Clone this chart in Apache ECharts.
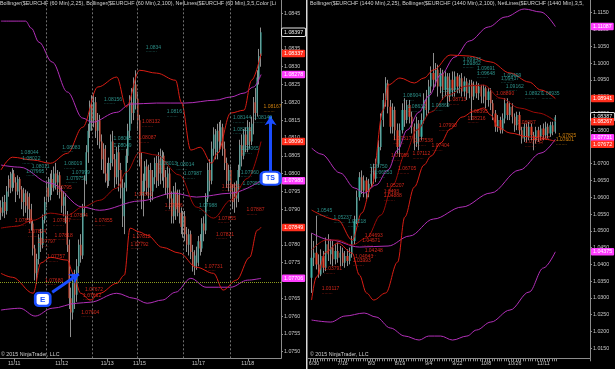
<!DOCTYPE html>
<html><head><meta charset="utf-8">
<script src="https://cdn.jsdelivr.net/npm/echarts@6/dist/echarts.min.js"></script>
<style>html,body{margin:0;padding:0;background:#000;}#c{width:615px;height:369px;}</style>
</head><body><div id="c"></div>
<script>
const FONT = '"Liberation Sans", Arial, sans-serif';

// ---------------- LEFT PANEL (60 min) ----------------
const leftSlotCount = 148;
const leftTickIndex = [7, 32, 56, 73, 104, 130];
const leftTickLabels = ['11/11', '11/12', '11/13', '11/15', '11/17', '11/18'];
const leftSessionBreaks = [24, 48, 72, 96, 121];
const leftYTicks = [1.0750,1.0755,1.0760,1.0765,1.0770,1.0775,1.0780,1.0785,1.0790,1.0795,1.0800,1.0805,1.0810,1.0815,1.0820,1.0825,1.0830,1.0835,1.0840,1.0845];

// [open, close, low, high] for slots 0..137
const leftCandles = [
[1.07905,1.07890,1.07870,1.07925],[1.07890,1.07920,1.07880,1.07935],[1.07920,1.07895,1.07875,1.07940],[1.07895,1.07950,1.07885,1.07965],
[1.07950,1.07985,1.07935,1.07995],[1.07985,1.07960,1.07945,1.08005],[1.07960,1.08000,1.07950,1.08015],[1.08000,1.07975,1.07960,1.08010],
[1.07975,1.07950,1.07920,1.07990],[1.07950,1.07985,1.07940,1.07995],[1.07985,1.07955,1.07930,1.07990],[1.07955,1.07920,1.07900,1.07965],
[1.07920,1.07945,1.07880,1.07960],[1.07945,1.07910,1.07890,1.07955],[1.07910,1.07935,1.07870,1.07950],[1.07935,1.07900,1.07860,1.07945],
[1.07900,1.07860,1.07840,1.07915],[1.07860,1.07790,1.07770,1.07870],[1.07790,1.07720,1.07700,1.07800],[1.07720,1.07760,1.07690,1.07775],
[1.07760,1.07820,1.07745,1.07830],[1.07820,1.07800,1.07780,1.07845],[1.07800,1.07870,1.07790,1.07885],[1.07870,1.07920,1.07860,1.07935],
[1.07920,1.07960,1.07905,1.07975],[1.07960,1.07935,1.07920,1.07990],[1.07935,1.07985,1.07925,1.08000],[1.07985,1.07960,1.07940,1.08010],
[1.07960,1.08000,1.07950,1.08020],[1.08000,1.07975,1.07955,1.08030],[1.07975,1.07995,1.07940,1.08010],[1.07995,1.07950,1.07930,1.08005],
[1.07950,1.07910,1.07890,1.07965],[1.07910,1.07935,1.07880,1.07950],[1.07935,1.07880,1.07860,1.07945],[1.07880,1.07800,1.07780,1.07895],
[1.07800,1.07650,1.07620,1.07815],[1.07650,1.07610,1.07541,1.07680],[1.07610,1.07700,1.07590,1.07720],[1.07700,1.07660,1.07620,1.07730],
[1.07660,1.07740,1.07640,1.07760],[1.07740,1.07800,1.07720,1.07815],[1.07800,1.07770,1.07750,1.07830],[1.07770,1.07900,1.07760,1.07915],
[1.07900,1.07980,1.07880,1.07995],[1.07980,1.08060,1.07970,1.08080],[1.08060,1.08120,1.08030,1.08140],[1.08120,1.08190,1.08100,1.08205],
[1.08190,1.08150,1.08120,1.08220],[1.08150,1.08200,1.08130,1.08225],[1.08200,1.08120,1.08100,1.08215],[1.08120,1.08150,1.08080,1.08170],
[1.08150,1.08090,1.08070,1.08165],[1.08090,1.08040,1.08010,1.08110],[1.08040,1.08070,1.08000,1.08085],[1.08070,1.08000,1.07975,1.08080],
[1.08000,1.07980,1.07960,1.08030],[1.07980,1.08030,1.07965,1.08045],[1.08030,1.08090,1.08010,1.08110],[1.08090,1.08040,1.08020,1.08120],
[1.08040,1.07990,1.07960,1.08055],[1.07990,1.08060,1.07970,1.08075],[1.08060,1.08010,1.07950,1.08080],[1.08010,1.07960,1.07930,1.08030],
[1.07960,1.07880,1.07850,1.07985],[1.07880,1.07960,1.07830,1.07975],[1.07960,1.08050,1.07950,1.08070],[1.08050,1.08120,1.08030,1.08140],
[1.08120,1.08200,1.08100,1.08220],[1.08200,1.08170,1.08140,1.08240],[1.08170,1.08250,1.08150,1.08270],[1.08250,1.08210,1.08180,1.08290],
[1.08210,1.08150,1.08120,1.08230],[1.08150,1.08040,1.08020,1.08165],[1.08040,1.07940,1.07900,1.08060],[1.07940,1.07980,1.07880,1.08000],
[1.07980,1.08020,1.07950,1.08035],[1.08020,1.07960,1.07940,1.08040],[1.07960,1.08010,1.07930,1.08025],[1.08010,1.07950,1.07920,1.08030],
[1.07950,1.07990,1.07925,1.08010],[1.07990,1.08030,1.07970,1.08045],[1.08030,1.07980,1.07960,1.08050],[1.07980,1.08040,1.07965,1.08060],
[1.08040,1.08000,1.07970,1.08070],[1.08000,1.08050,1.07980,1.08065],[1.08050,1.07990,1.07960,1.08060],[1.07990,1.07960,1.07940,1.08010],
[1.07960,1.08000,1.07930,1.08020],[1.08000,1.07930,1.07900,1.08015],[1.07930,1.07880,1.07860,1.07950],[1.07880,1.07950,1.07860,1.07965],
[1.07950,1.07900,1.07870,1.07975],[1.07900,1.07940,1.07880,1.07955],[1.07940,1.07890,1.07860,1.07955],[1.07890,1.07850,1.07830,1.07905],
[1.07850,1.07880,1.07820,1.07895],[1.07880,1.07830,1.07810,1.07895],[1.07830,1.07800,1.07780,1.07850],[1.07800,1.07830,1.07770,1.07845],
[1.07830,1.07780,1.07760,1.07840],[1.07780,1.07740,1.07725,1.07800],[1.07740,1.07770,1.07715,1.07785],[1.07770,1.07750,1.07730,1.07795],
[1.07750,1.07810,1.07740,1.07825],[1.07810,1.07790,1.07770,1.07830],[1.07790,1.07860,1.07780,1.07875],[1.07860,1.07840,1.07810,1.07880],
[1.07840,1.07930,1.07830,1.07945],[1.07930,1.08010,1.07920,1.08030],[1.08010,1.07980,1.07950,1.08040],[1.07980,1.08070,1.07970,1.08090],
[1.08070,1.08110,1.08050,1.08130],[1.08110,1.08060,1.08040,1.08125],[1.08060,1.08120,1.08040,1.08140],[1.08120,1.08090,1.08060,1.08145],
[1.08090,1.08130,1.08070,1.08150],[1.08130,1.08070,1.08050,1.08140],[1.08070,1.08030,1.08010,1.08090],[1.08030,1.07980,1.07960,1.08045],
[1.07980,1.08010,1.07950,1.08025],[1.08010,1.07950,1.07930,1.08020],[1.07950,1.07920,1.07900,1.07970],[1.07920,1.07960,1.07890,1.07975],
[1.07960,1.07930,1.07905,1.07980],[1.07930,1.08010,1.07920,1.08025],[1.08010,1.08080,1.07990,1.08095],[1.08080,1.08050,1.08020,1.08110],
[1.08050,1.08110,1.08040,1.08125],[1.08110,1.08080,1.08060,1.08130],[1.08080,1.08130,1.08060,1.08150],[1.08130,1.08090,1.08070,1.08145],
[1.08090,1.08140,1.08080,1.08160],[1.08140,1.08200,1.08110,1.08215],[1.08200,1.08170,1.08150,1.08240],[1.08170,1.08270,1.08160,1.08290],
[1.08270,1.08330,1.08250,1.08350],[1.08330,1.08397,1.08300,1.08410]
];

// band points [slot, value]
const leftRedUpper = [[0,1.08010],[6,1.08046],[17,1.08038],[26,1.08029],[35,1.08057],[43,1.08130],[51,1.08243],[61,1.08271],[66,1.08187],[73,1.08290],[82,1.08282],[92,1.08262],[95,1.08200],[100,1.08066],[105,1.08074],[111,1.08029],[114,1.08057],[121,1.08170],[128,1.08178],[132,1.08262],[137,1.08337]];
const leftRedMid = [[0,1.07847],[8,1.07852],[17,1.07869],[26,1.07889],[35,1.07883],[43,1.07906],[52,1.07925],[61,1.07959],[66,1.08004],[73,1.08060],[82,1.08052],[94,1.07996],[103,1.07906],[112,1.07875],[121,1.07925],[130,1.07987],[137,1.08090]];
const leftRedLower = [[0,1.07720],[6,1.07709],[17,1.07664],[21,1.07749],[26,1.07765],[35,1.07757],[38,1.07720],[42,1.07664],[47,1.07645],[52,1.07664],[61,1.07692],[65,1.07715],[68,1.07847],[73,1.07836],[77,1.07827],[85,1.07793],[94,1.07777],[103,1.07737],[112,1.07720],[117,1.07673],[124,1.07701],[131,1.07765],[135,1.07841],[137,1.07849]];
const leftMagUpper = [[0,1.08428],[13,1.08428],[16,1.08408],[20,1.08369],[27,1.08313],[35,1.08229],[43,1.08156],[48,1.08144],[61,1.08172],[68,1.08195],[82,1.08198],[97,1.08198],[113,1.08206],[121,1.08215],[128,1.08226],[133,1.08243],[137,1.08278]];
const leftMagMid = [[0,1.08024],[10,1.08018],[26,1.07973],[43,1.07906],[52,1.07897],[73,1.07923],[91,1.07945],[103,1.07934],[121,1.07945],[137,1.07980]];
const leftMagLower = [[0,1.07617],[10,1.07622],[18,1.07600],[27,1.07622],[40,1.07636],[47,1.07639],[61,1.07664],[70,1.07650],[77,1.07636],[85,1.07645],[92,1.07667],[100,1.07706],[108,1.07681],[121,1.07681],[130,1.07701],[137,1.07706]];

const leftBoxValues = [1.08397, 1.08337, 1.08278, 1.08090, 1.07980, 1.07849, 1.07706];
const leftBoxKinds  = ['last', 'red', 'mag', 'red', 'mag', 'red', 'mag'];
const leftLevelLine = 1.07695;

const leftTealLabels = [
[76,1.08352,'1.0834'],[54,1.08206,'1.08156'],[32,1.08071,'1.08083'],[10,1.08055,'1.08044'],[11,1.08038,'1.08022'],
[16,1.08018,'1.08011'],[13,1.08004,'1.07995'],[33,1.08024,'1.08019'],[37,1.08001,'1.07999'],[34,1.07984,'1.07975'],
[59,1.08094,'1.08062'],[59,1.08077,'1.08049'],[87,1.08170,'1.0816'],[122,1.08153,'1.08144'],[133,1.08153,'1.08149'],
[122,1.08122,'1.08131'],[83,1.08024,'1.08013'],[92,1.08021,'1.08014'],[96,1.07996,'1.07987'],[104,1.07906,'1.07988'],
[126,1.08066,'1.08065'],[126,1.08001,'1.07960'],[127,1.07968,'1.07952']
];
const leftRedLabels = [
[7,1.07864,'1.07856'],[14,1.07833,'1.07824'],[19,1.07805,'1.07797'],[24,1.07763,'1.07757'],[23,1.07698,'1.07680'],
[27,1.07864,'1.07827'],[28,1.07824,'1.07818'],[29,1.07959,'1.0795'],[36,1.07880,'1.07874'],[49,1.07864,'1.07855'],
[44,1.07672,'1.07672'],[43,1.07656,'1.07662'],[42,1.07608,'1.07604'],[74,1.08142,'1.08132'],[72,1.08097,'1.08087'],
[70,1.07937,'1.07891'],[86,1.07906,'1.07866'],[69,1.07819,'1.07812'],[68,1.07799,'1.07792'],[107,1.07737,'1.07731'],
[114,1.07872,'1.07855'],[113,1.07827,'1.07821'],[116,1.07962,'1.07863'],[129,1.07895,'1.07887']
];
const leftOrangeLabels = [[138,1.08184,'1.08167']];

// annotations (data coordinates)
const eBox = [22, 1.07647];
const eArrow = [[27, 1.07667], [41, 1.07718]];
const tsBox = [142, 1.07987];
const tsArrow = [[142, 1.08004], [142, 1.08161]];

// ---------------- RIGHT PANEL (daily) ----------------
const rightSlotCount = 118;
const rightFirstSlot = 1;
const rightTickIndex = [2, 14, 26, 38, 50, 62, 74, 86, 98];
const rightTickLabels = ['6/30', '7/16', '8/3', '8/19', '9/4', '9/22', '10/8', '10/26', '11/11'];
const rightYTicks = [1.0150,1.0200,1.0250,1.0300,1.0350,1.0400,1.0450,1.0500,1.0550,1.0600,1.0650,1.0700,1.0750,1.0800,1.0850,1.0900,1.0950,1.1000,1.1050,1.1100,1.1150];

// [open, close, low, high] for slots 1..103
const rightCandles = [
[1.03600,1.04200,1.03150,1.04930],[1.04200,1.04350,1.03950,1.04700],[1.04350,1.04000,1.03850,1.05450],[1.04000,1.03700,1.03600,1.04300],
[1.03700,1.04250,1.03650,1.04450],[1.04250,1.03900,1.03750,1.04400],[1.03900,1.04600,1.03800,1.04800],[1.04600,1.04300,1.04100,1.04900],
[1.04300,1.04500,1.04000,1.04750],[1.04500,1.04150,1.03950,1.04700],[1.04150,1.04400,1.04000,1.04600],[1.04400,1.04200,1.04050,1.04650],
[1.04200,1.04350,1.03950,1.04550],[1.04350,1.04050,1.03950,1.04500],[1.04050,1.04250,1.03900,1.04400],[1.04250,1.04100,1.03950,1.04450],
[1.04100,1.04300,1.04000,1.04500],[1.04300,1.04700,1.04200,1.04850],[1.04700,1.05300,1.04600,1.05450],[1.05300,1.06000,1.05200,1.06200],
[1.06000,1.06600,1.05900,1.06750],[1.06600,1.06200,1.06100,1.06800],[1.06200,1.06500,1.06000,1.06650],[1.06500,1.06150,1.05950,1.06600],
[1.06150,1.06400,1.06000,1.06550],[1.06400,1.06700,1.06300,1.06900],[1.06700,1.06550,1.06400,1.07000],[1.06550,1.07000,1.06450,1.07150],
[1.07000,1.07500,1.06900,1.07700],[1.07500,1.08300,1.07400,1.08500],[1.08300,1.08900,1.08100,1.09100],[1.08900,1.09400,1.08700,1.09580],
[1.09400,1.08700,1.08500,1.09500],[1.08700,1.08100,1.07900,1.08900],[1.08100,1.08600,1.07900,1.08800],[1.08600,1.08000,1.07700,1.08700],
[1.08000,1.07500,1.07300,1.08200],[1.07500,1.08000,1.07200,1.08200],[1.08000,1.08600,1.07900,1.08800],[1.08600,1.08300,1.08100,1.08950],
[1.08300,1.08750,1.08200,1.08900],[1.08750,1.08400,1.08200,1.08900],[1.08400,1.08100,1.07900,1.08550],[1.08100,1.07600,1.07400,1.08200],
[1.07600,1.08200,1.07500,1.08400],[1.08200,1.07800,1.07400,1.08300],[1.07800,1.08300,1.07700,1.08500],[1.08300,1.08900,1.08200,1.09100],
[1.08900,1.08600,1.08400,1.09200],[1.08600,1.09300,1.08500,1.09500],[1.09300,1.09700,1.09100,1.09900],[1.09700,1.09500,1.09200,1.10300],
[1.09500,1.09800,1.09300,1.10000],[1.09800,1.09300,1.09000,1.09950],[1.09300,1.09700,1.09100,1.09850],[1.09700,1.09200,1.08900,1.09800],
[1.09200,1.09600,1.09000,1.09750],[1.09600,1.09000,1.08700,1.09700],[1.09000,1.09500,1.08850,1.09700],[1.09500,1.09200,1.09000,1.09750],
[1.09200,1.09600,1.09000,1.09750],[1.09600,1.09300,1.09100,1.09700],[1.09300,1.09550,1.09100,1.09650],[1.09550,1.09150,1.09000,1.09700],
[1.09150,1.09450,1.09000,1.09600],[1.09450,1.09100,1.08900,1.09550],[1.09100,1.09400,1.08950,1.09500],[1.09400,1.09000,1.08300,1.09500],
[1.09000,1.09350,1.08900,1.09450],[1.09350,1.09100,1.08950,1.09450],[1.09100,1.09300,1.08900,1.09400],[1.09300,1.09000,1.08800,1.09350],
[1.09000,1.09250,1.08800,1.09350],[1.09250,1.08900,1.08650,1.09300],[1.08900,1.09150,1.08700,1.09250],[1.09150,1.08800,1.08600,1.09250],
[1.08800,1.08500,1.08300,1.08900],[1.08500,1.08100,1.07950,1.08600],[1.08100,1.08300,1.07950,1.08450],[1.08300,1.08000,1.07900,1.08400],
[1.08000,1.08350,1.07900,1.08500],[1.08350,1.08800,1.08200,1.08950],[1.08800,1.08450,1.08300,1.08950],[1.08450,1.08700,1.08300,1.08850],
[1.08700,1.08400,1.08200,1.08800],[1.08400,1.08150,1.07950,1.08500],[1.08150,1.08450,1.08000,1.08550],[1.08450,1.08000,1.07850,1.08550],
[1.08000,1.07750,1.07600,1.08100],[1.07750,1.08100,1.07650,1.08200],[1.08100,1.07800,1.07650,1.08200],[1.07800,1.08100,1.07700,1.08250],
[1.08100,1.07850,1.07700,1.08200],[1.07850,1.07700,1.07400,1.07950],[1.07700,1.08000,1.07600,1.08100],[1.08000,1.07800,1.07650,1.08100],
[1.07800,1.08050,1.07700,1.08150],[1.08050,1.07850,1.07700,1.08200],[1.07850,1.08100,1.07750,1.08250],[1.08100,1.07900,1.07750,1.08200],
[1.07900,1.08150,1.07800,1.08250],[1.08150,1.07950,1.07850,1.08250],[1.07950,1.08387,1.07900,1.08450]
];

const rightRedUpper = [[1,1.05620],[12,1.05322],[18,1.04726],[22,1.05531],[26,1.06305],[31,1.08600],[33,1.09345],[38,1.09554],[44,1.09405],[48,1.09554],[52,1.09792],[59,1.10239],[67,1.10209],[76,1.10031],[84,1.09703],[92,1.09434],[97,1.09196],[103,1.08941]];
const rightRedMid = [[1,1.04428],[7,1.04726],[12,1.04726],[18,1.04577],[24,1.04786],[30,1.05471],[35,1.06365],[40,1.07259],[45,1.08004],[51,1.08540],[58,1.09047],[66,1.09315],[73,1.09345],[80,1.08958],[88,1.08660],[96,1.08511],[103,1.08267]];
const rightRedLower = [[1,1.02938],[3,1.03624],[7,1.04368],[12,1.04637],[18,1.04339],[21,1.03683],[24,1.03147],[27,1.02938],[32,1.03147],[37,1.04070],[40,1.05411],[44,1.06305],[48,1.06961],[51,1.07230],[55,1.07617],[59,1.08034],[64,1.08391],[69,1.08570],[73,1.08660],[76,1.08451],[79,1.08093],[84,1.07915],[92,1.07796],[103,1.07672]];
const rightMagUpper = [[1,1.07468],[5,1.07289],[13,1.06723],[19,1.06276],[23,1.06127],[28,1.06365],[33,1.06812],[37,1.07408],[41,1.08004],[46,1.08540],[50,1.09017],[55,1.09643],[61,1.10180],[67,1.10656],[75,1.11074],[82,1.11371],[90,1.11610],[97,1.11520],[103,1.11087]];
const rightMagMid = [[1,1.04935],[9,1.04726],[21,1.04517],[33,1.04547],[42,1.04845],[52,1.05352],[64,1.05710],[76,1.06127],[88,1.06812],[97,1.07319],[103,1.07731]];
const rightMagLower = [[1,1.02342],[9,1.02282],[15,1.02461],[23,1.02551],[28,1.02432],[34,1.02104],[40,1.01865],[46,1.01746],[50,1.01865],[55,1.01865],[60,1.01746],[66,1.01865],[70,1.02044],[76,1.02282],[84,1.02640],[92,1.03176],[98,1.03892],[103,1.04375]];

const rightBoxValues = [1.11087, 1.08941, 1.08387, 1.08267, 1.07731, 1.07672, 1.04375];
const rightBoxKinds  = ['mag', 'red', 'last', 'red', 'mag', 'red', 'mag'];

const rightTealLabels = [
[3,1.05560,'1.0545'],[10,1.05352,'1.05237'],[16,1.05233,'1.05218'],[25,1.06872,'1.06750'],[27,1.06693,'1.06553'],
[39,1.08987,'1.08904'],[41,1.08660,'1.08632'],[64,1.10070,'1.09943'],[64,1.09962,'1.09862'],[70,1.09813,'1.09691'],
[70,1.09664,'1.09648'],[81,1.09593,'1.09499'],[80,1.09514,'1.09437'],[82,1.09277,'1.09162'],[90,1.09048,'1.08927'],
[97,1.09048,'1.08935'],[55,1.09137,'1.09007'],[51,1.08699,'1.08869']
];
const rightRedLabels = [
[5,1.03236,'1.03117'],[6,1.03832,'1.03791'],[23,1.04368,'1.04248'],[23,1.04815,'1.04693'],[22,1.04666,'1.04571'],
[19,1.04190,'1.04043'],[18,1.04070,'1.03993'],[32,1.06305,'1.05207'],[31,1.06127,'1.0493'],[31,1.06008,'1.04888'],
[37,1.06812,'1.06705'],[34,1.07200,'1.07056'],[35,1.07706,'1.07317'],[44,1.07646,'1.07538'],[43,1.07259,'1.07112'],
[58,1.08878,'1.08713'],[78,1.09048,'1.08890'],[67,1.08520,'1.08395'],[66,1.08324,'1.08216'],[54,1.08103,'1.07990'],
[51,1.07507,'1.07404'],[87,1.08184,'1.08087'],[93,1.07707,'1.07867'],[90,1.07626,'1.07745']
];
const rightOrangeLabels = [[104,1.07800,'1.07825'],[103,1.07680,'1.07601']];

const leftHeader = 'Bollinger($EURCHF (60 Min),2,25), Bollinger($EURCHF (60 Min),2,100), NetLines($EURCHF (60 Min),3,5,Color [Line]';
const rightHeader = 'Bollinger($EURCHF (1440 Min),2,25), Bollinger($EURCHF (1440 Min),2,100), NetLines($EURCHF (1440 Min),3,5,Color [Line]';
const copyright = '\u00A9 2015 NinjaTrader, LLC';

// ---------------- build ----------------
const C = {
  up: '#3fb1a7', down: '#e2462e', wick: '#8e8e8e',
  red: '#d81d14', redMid: '#9c0a06', mag: '#b22fb8',
  teal: '#36b0a8', redText: '#ff3020', orange: '#ff9d10',
  axis: '#8c8c8c', text: '#c8c8c8', blue: '#1a4dff'
};
const FS = 5.3;

function cats(n) { const a = []; for (let i = 0; i < n; i++) a.push(String(i)); return a; }
function labelMap(idx, lab) { const m = {}; idx.forEach((k, j) => { m[k] = lab[j]; }); return m; }
const leftMap = labelMap(leftTickIndex, leftTickLabels);
const rightMap = labelMap(rightTickIndex, rightTickLabels);

const leftData = leftCandles.map((d, i) => [i, d[0], d[1], d[2], d[3]]);
const rightData = rightCandles.map((d, i) => [i + rightFirstSlot, d[0], d[1], d[2], d[3]]);

function candle(xi, data, w, wick, extra) {
  const s = {
    type: 'candlestick', xAxisIndex: xi, yAxisIndex: xi, data: data,
    encode: { x: 0, y: [1, 2, 3, 4] }, barWidth: w, silent: true,
    itemStyle: wick
      ? { color: C.wick, color0: C.wick, borderColor: C.wick, borderColor0: C.wick, borderWidth: 1 }
      : { color: C.up, color0: C.down, borderColor: C.up, borderColor0: C.down, borderWidth: 0 }
  };
  return Object.assign(s, extra || {});
}
function band(xi, pts, color, extra) {
  return Object.assign({
    type: 'line', xAxisIndex: xi, yAxisIndex: xi, data: pts, smooth: 0.35, smoothMonotone: 'x',
    showSymbol: false, symbol: 'none', silent: true, lineStyle: { color: color, width: 1 }, z: 3
  }, extra || {});
}
function labels(xi, pts, color) {
  return {
    type: 'scatter', xAxisIndex: xi, yAxisIndex: xi, symbolSize: 1, silent: true, z: 6,
    itemStyle: { color: 'rgba(0,0,0,0)' },
    data: pts.map(p => ({ value: [p[0], p[1]], name: p[2] })),
    label: {
      show: true, position: 'right', distance: 0,
      formatter: p => '{t|' + p.name + '}\n{d|........}',
      rich: {
        t: { fontSize: 5, color: color, lineHeight: 5.5, fontFamily: FONT },
        d: { fontSize: 5, color: color, lineHeight: 2, fontFamily: FONT }
      }
    }
  };
}
const boxStyle = {
  last: { backgroundColor: '#000', borderColor: '#e6e6e6', borderWidth: 1, color: '#eeeeee' },
  red: { backgroundColor: '#ff2e1c', color: '#ffffff' },
  mag: { backgroundColor: '#ff3dff', color: '#ffffff' }
};
function boxes(vals, kinds, offsets) {
  return vals.map((v, i) => ({
    name: v.toFixed(5), yAxis: v,
    label: Object.assign({
      show: true, position: 'end', distance: 1, formatter: p => p.name,
      fontSize: FS, fontFamily: FONT, padding: [1.5, 2, 1, 2], borderRadius: 1,
      offset: (offsets && offsets[i]) || [0, 0]
    }, boxStyle[kinds[i]])
  }));
}

function xAxisCfg(gi, n, map, tickFn) {
  return {
    type: 'category', gridIndex: gi, data: cats(n), boundaryGap: true,
    axisLine: { show: true, lineStyle: { color: C.axis, width: 1 } },
    axisTick: { show: true, length: 3, alignWithLabel: !tickFn, interval: tickFn || ((i) => map[i] !== undefined), lineStyle: { color: C.axis } },
    axisLabel: { interval: (i) => map[i] !== undefined, formatter: (v, i) => map[i] || '', color: C.text, fontSize: FS, fontFamily: FONT, margin: 2.5 },
    splitLine: { show: false }
  };
}
function yAxisCfg(gi, min, max, ticks) {
  return {
    type: 'value', gridIndex: gi, position: 'right', min: min, max: max,
    axisLine: { show: true, lineStyle: { color: C.axis, width: 1 } },
    axisTick: { show: true, length: 2, customValues: ticks, lineStyle: { color: C.axis } },
    axisLabel: { customValues: ticks, formatter: v => v.toFixed(4), color: C.text, fontSize: FS, fontFamily: FONT, margin: 3 },
    splitLine: { show: false }
  };
}

const option = {
  backgroundColor: '#000',
  animation: false,
  grid: [
    { left: 0, top: 0, right: 334, bottom: 10.7, containLabel: false, outerBoundsMode: 'none' },
    { left: 308, top: 0, right: 25, bottom: 10.7, containLabel: false, outerBoundsMode: 'none' }
  ],
  xAxis: [
    xAxisCfg(0, leftSlotCount, leftMap, null),
    xAxisCfg(1, rightSlotCount, rightMap, (i) => i >= 1 && i <= 104)
  ],
  yAxis: [
    yAxisCfg(0, 1.074815, 1.084873, leftYTicks),
    yAxisCfg(1, 1.01202, 1.118784, rightYTicks)
  ],
  series: [
    candle(0, leftData, 1, true, {
      markLine: {
        silent: true, precision: 5, symbol: ['none', 'none'], label: { show: false },
        lineStyle: { color: '#6e6e6e', type: [2, 2], width: 1 },
        data: leftSessionBreaks.map(k => ({ xAxis: k })).concat([
          { yAxis: leftLevelLine, lineStyle: { color: '#8c9a1e', type: [1, 1], width: 1 } }
        ])
      }
    }),
    candle(0, leftData, 1.4, false, {
      markLine: {
        silent: true, precision: 5, symbol: ['none', 'none'], lineStyle: { color: 'rgba(0,0,0,0)', width: 0 },
        data: boxes(leftBoxValues, leftBoxKinds)
      }
    }),
    band(0, leftMagUpper, C.mag),
    band(0, leftMagMid, C.mag),
    band(0, leftMagLower, C.mag),
    band(0, leftRedUpper, C.red),
    band(0, leftRedMid, C.redMid),
    band(0, leftRedLower, C.red, {
      markLine: {
        silent: true, precision: 5, symbol: ['none', 'arrow'], symbolSize: 9, label: { show: false },
        lineStyle: { color: C.blue, width: 3, type: 'solid' },
        data: [
          [{ coord: eArrow[0] }, { coord: eArrow[1] }],
          [{ coord: tsArrow[0] }, { coord: tsArrow[1] }]
        ]
      },
      markPoint: {
        silent: true,
        data: [
          { coord: eBox, symbol: 'roundRect', symbolSize: [15, 13],
            itemStyle: { color: '#ffffff', borderColor: C.blue, borderWidth: 2.5 },
            label: { show: true, position: 'inside', formatter: 'E', color: C.blue, fontSize: 8, fontWeight: 'bold', fontFamily: FONT } },
          { coord: tsBox, symbol: 'roundRect', symbolSize: [19, 13],
            itemStyle: { color: '#ffffff', borderColor: C.blue, borderWidth: 2.5 },
            label: { show: true, position: 'inside', formatter: 'TS', color: C.blue, fontSize: 7, fontWeight: 'bold', fontFamily: FONT } }
        ]
      }
    }),
    labels(0, leftTealLabels, C.teal),
    labels(0, leftRedLabels, C.redText),
    labels(0, leftOrangeLabels, C.orange),

    candle(1, rightData, 1, true),
    candle(1, rightData, 1.8, false, {
      markLine: {
        silent: true, precision: 5, symbol: ['none', 'none'], lineStyle: { color: 'rgba(0,0,0,0)', width: 0 },
        data: boxes(rightBoxValues, rightBoxKinds, [null, null, [0, -0.5], [0, 0.5], [0, -1.5], [0, 3], null])
      }
    }),
    band(1, rightMagUpper, C.mag),
    band(1, rightMagMid, C.mag),
    band(1, rightMagLower, C.mag),
    band(1, rightRedUpper, C.red),
    band(1, rightRedMid, C.redMid),
    band(1, rightRedLower, C.red),
    labels(1, rightTealLabels, C.teal),
    labels(1, rightRedLabels, C.redText),
    labels(1, rightOrangeLabels, C.orange)
  ],
  graphic: [
    { type: 'rect', shape: { x: 306, y: 0, width: 1.5, height: 369 }, style: { fill: '#d8d8d8' }, silent: true },
    { type: 'text', x: 0, y: 1.5, silent: true,
      style: { text: leftHeader, font: '5.4px ' + FONT, fill: '#d0d0d0', width: 279, overflow: 'truncate', ellipsis: '', verticalAlign: 'top' } },
    { type: 'text', x: 310, y: 1.5, silent: true,
      style: { text: rightHeader, font: '5.4px ' + FONT, fill: '#d0d0d0', width: 277, overflow: 'truncate', ellipsis: '', verticalAlign: 'top' } },
    { type: 'text', x: 1, y: 352.5, silent: true,
      style: { text: copyright, font: '5.3px ' + FONT, fill: '#cfcfcf', verticalAlign: 'top' } },
    { type: 'text', x: 310, y: 352.5, silent: true,
      style: { text: copyright, font: '5.3px ' + FONT, fill: '#cfcfcf', verticalAlign: 'top' } }
  ]
};

const chart = echarts.init(document.getElementById('c'), null, { renderer: 'canvas' });
chart.setOption(option);
</script></body></html>
